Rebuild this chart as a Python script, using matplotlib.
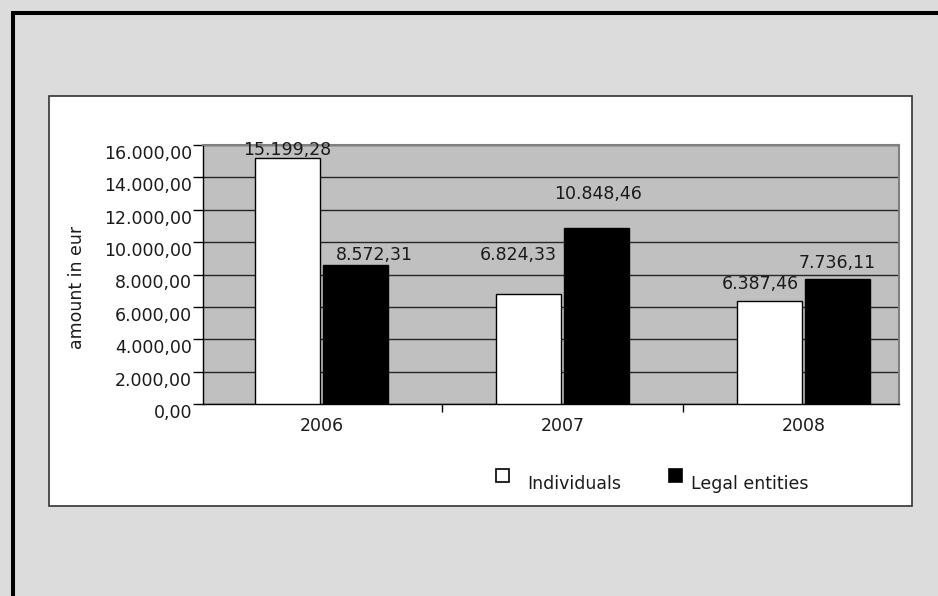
import matplotlib
matplotlib.use("Agg")
import matplotlib.pyplot as plt
import numpy as np
from matplotlib.patches import Rectangle
from matplotlib.lines import Line2D
from matplotlib.transforms import ScaledTranslation

# Dados do gráfico
years = ["2006", "2007", "2008"]
individuals = [15199.28, 6824.33, 6387.46]
legal_entities = [8572.31, 10848.46, 7736.11]
y_ticks = [0, 2000, 4000, 6000, 8000, 10000, 12000, 14000, 16000]

# deslocamento dos rótulos (pixels: dx, dy para cima)
ind_label_off = [(0, 8), (-10, 39), (-9, 17)]
leg_label_off = [(19, 10), (1, 34), (-1, 16)]

W, H = 938, 596
TXT = "#1a1a1a"
FS = 12.5


def fx(px):
    return px / W


def fy(py):
    return 1 - py / H


def eur(v, pos=None):
    s = f"{v:,.2f}"
    return s.replace(",", "X").replace(".", ",").replace("X", ".")


def main():
    plt.rcParams["font.family"] = ["DejaVu Sans"]
    fig = plt.figure(figsize=(W / 100, H / 100), dpi=100, facecolor="#dcdcdc")

    # moldura preta (topo e esquerda) e painel branco
    fig.add_artist(Line2D([fx(12.5), fx(12.5), 1], [0, fy(12.5), fy(12.5)],
                          color="black", lw=2.9, transform=fig.transFigure,
                          solid_joinstyle="miter"))
    fig.add_artist(Rectangle((fx(49), fy(505.5)), fx(912 - 49), (505.5 - 96) / H,
                             transform=fig.transFigure, facecolor="white",
                             edgecolor="#333333", lw=1.2, zorder=0))

    ax = fig.add_axes([fx(203), fy(404), fx(696), 259 / H])
    ax.set_facecolor("#c0c0c0")
    ax.set_zorder(2)

    x = np.arange(len(years))
    width = 0.272
    off = 0.142
    ax.bar(x - off, individuals, width, color="white", edgecolor="black", lw=1, zorder=3)
    ax.bar(x + off, legal_entities, width, color="black", edgecolor="black", lw=1, zorder=3)

    ax.set_xlim((203 - 321.5) / 241, (899 - 321.5) / 241)
    ax.set_ylim(0, 16000)

    # grade e eixos
    ax.set_axisbelow(True)
    ax.yaxis.grid(True, color="#262626", lw=1)
    for side in ["top", "right"]:
        ax.spines[side].set_color("#808080")
        ax.spines[side].set_linewidth(1.5)
    for side in ["left", "bottom"]:
        ax.spines[side].set_color("black")
        ax.spines[side].set_linewidth(1)

    ax.set_yticks(y_ticks)
    ax.yaxis.set_major_formatter(plt.FuncFormatter(eur))
    ax.tick_params(axis="y", direction="out", length=7.2, width=1, pad=0.8,
                   labelsize=FS, labelcolor=TXT, color="black")
    shift = ScaledTranslation(0, -7 / 100, fig.dpi_scale_trans)
    for lbl in ax.get_yticklabels():
        lbl.set_transform(lbl.get_transform() + shift)

    ax.set_xticks(x)
    ax.set_xticklabels(years)
    ax.tick_params(axis="x", which="major", length=0, pad=9.7, labelsize=FS, labelcolor=TXT)
    ax.set_xticks([0.5, 1.5], minor=True)
    ax.tick_params(axis="x", which="minor", direction="out", length=5.8, width=1, color="black")

    # rótulos dos valores
    for i in range(len(years)):
        for val, (dx, dy), xo in ((individuals[i], ind_label_off[i], -off),
                                  (legal_entities[i], leg_label_off[i], off)):
            ax.annotate(eur(val), xy=(x[i] + xo, val), xytext=(dx * 0.72, dy * 0.72),
                        textcoords="offset points", ha="center", va="center",
                        fontsize=FS, color=TXT, zorder=5, annotation_clip=False)

    fig.text(fx(77), fy(287), "amount in eur", rotation=90, ha="center", va="center",
             fontsize=FS, color=TXT)

    # legenda manual
    fig.add_artist(Rectangle((fx(496), fy(482)), fx(13), 13 / H, transform=fig.transFigure,
                             facecolor="white", edgecolor="black", lw=1.2, zorder=3))
    fig.text(fx(527), fy(484), "Individuals", ha="left", va="center", fontsize=FS, color=TXT)
    fig.add_artist(Rectangle((fx(669), fy(482)), fx(13), 13 / H, transform=fig.transFigure,
                             facecolor="black", edgecolor="black", lw=1.2, zorder=3))
    fig.text(fx(691), fy(484), "Legal entities", ha="left", va="center", fontsize=FS, color=TXT)

    fig.savefig("out.png", dpi=100, facecolor=fig.get_facecolor())
    plt.close(fig)


if __name__ == "__main__":
    main()
